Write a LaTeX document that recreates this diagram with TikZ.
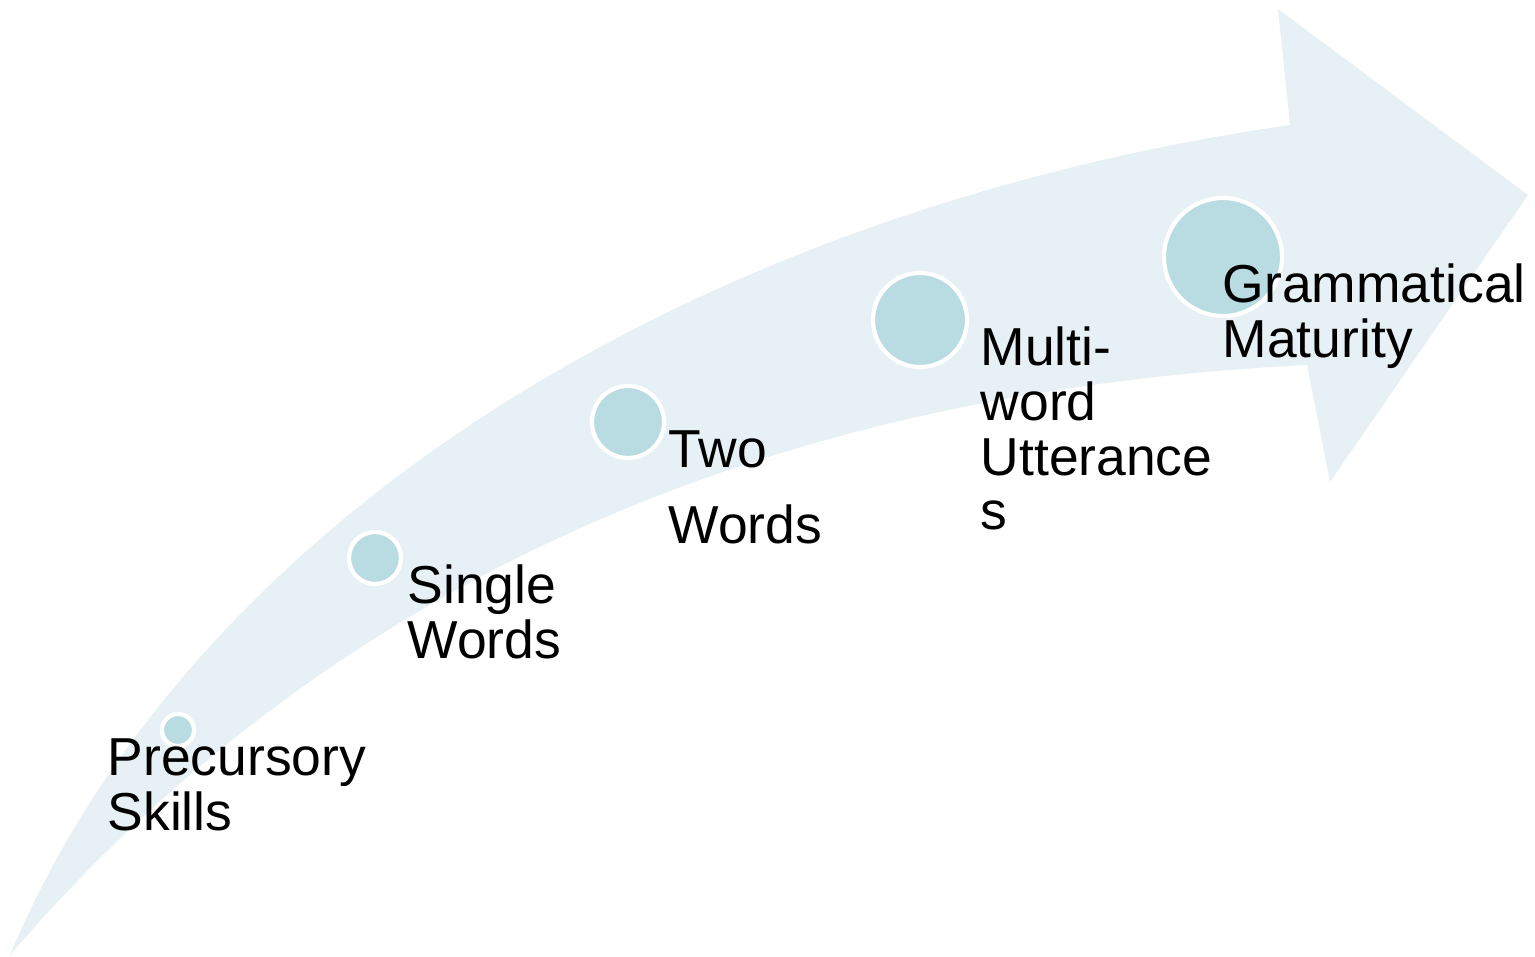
\documentclass[tikz,border=0pt]{standalone}
\usepackage{fontspec}
\setmainfont{Liberation Sans}
\begin{document}
\begin{tikzpicture}[x=0.01cm,y=-0.01cm,
  dot/.style={circle,fill=dotfill,draw=white,line width=1.2pt,inner sep=0pt},
  lbl/.style={anchor=base west,inner sep=0pt,text=black,
    font=\fontsize{15.2}{15.6}\selectfont}]
\definecolor{bandfill}{RGB}{231,240,245}
\definecolor{dotfill}{RGB}{184,220,225}
\useasboundingbox (0,0) rectangle (1535,957);

% curved band ending in an arrow head
\fill[bandfill]
  (10,955) .. controls (195,515) and (700,210) .. (1290,125)
  -- (1278,9) -- (1528,195) -- (1330,482) -- (1307,365)
  .. controls (800,390) and (350,560) .. (10,955)
  -- cycle;

% stage markers, growing along the band
\node[dot,minimum size=0.32cm] (d1) at (178,730) {};
\node[dot,minimum size=0.52cm] (d2) at (375,558) {};
\node[dot,minimum size=0.72cm] (d3) at (628,422) {};
\node[dot,minimum size=0.94cm] (d4) at (920,320) {};
\node[dot,minimum size=1.18cm] (d5) at (1223,257) {};

% stage labels
\node[lbl] (t1) at (107,775) {\begin{tabular}[t]{@{}l@{}}Precursory\\Skills\end{tabular}};
\node[lbl] (t2) at (407,603) {\begin{tabular}[t]{@{}l@{}}Single\\Words\end{tabular}};
\node[lbl] (t3) at (668,467) {\begin{tabular}[t]{@{}l@{}}Two\\[0.21cm]Words\end{tabular}};
\node[lbl] (t4) at (980,365) {\begin{tabular}[t]{@{}l@{}}Multi-\\word\\Utterance\\s\end{tabular}};
\node[lbl] (t5) at (1222,302) {\begin{tabular}[t]{@{}l@{}}Grammatical\\Maturity\end{tabular}};
\end{tikzpicture}
\end{document}
